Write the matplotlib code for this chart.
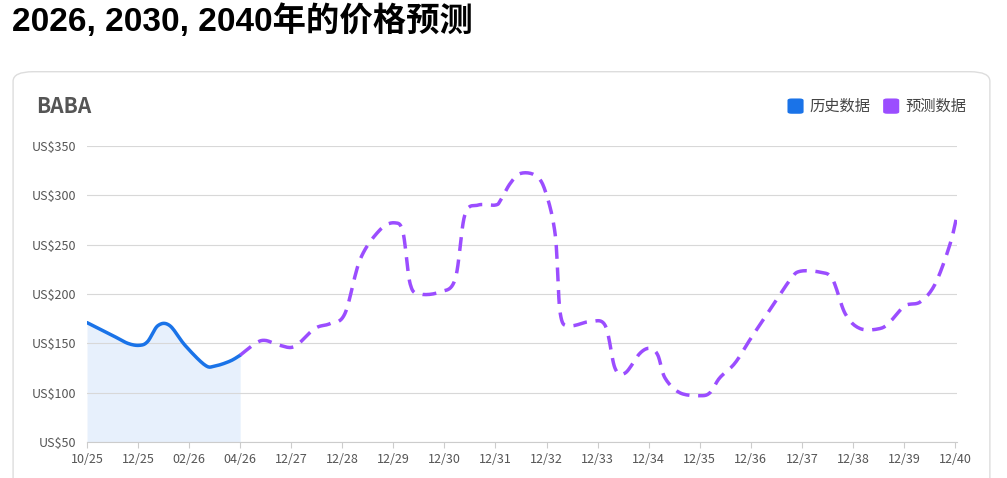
import matplotlib
matplotlib.use("Agg")
import matplotlib.pyplot as plt
import numpy as np
from matplotlib.patches import FancyBboxPatch

plt.rcParams['font.family'] = ['Noto Sans CJK SC', 'DejaVu Sans']

tick_labels = ["10/25","12/25","02/26","04/26","12/27","12/28","12/29","12/30","12/31",
               "12/32","12/33","12/34","12/35","12/36","12/37","12/38","12/39","12/40"]
# x in tick-index units
hist_x = [0, 0.5, 0.8, 1.03, 1.19, 1.39, 1.62, 1.92, 2.31, 2.5, 2.8, 3.0]
hist_y = [171, 158, 150, 148, 152, 168, 168, 148, 128, 127, 132, 138]
fc_x = [3.0, 3.3, 3.49, 3.78, 4.07, 4.46, 4.76, 5.05, 5.35, 5.74, 6.03, 6.19, 6.33, 6.52,
        6.91, 7.21, 7.4, 7.66, 8.0, 8.1, 8.29, 8.49, 8.78, 8.97, 9.17, 9.27, 9.46, 9.85, 10.15,
        10.34, 10.54, 10.83, 11.03, 11.18, 11.32, 11.61, 12.0, 12.2, 12.39, 12.69, 13.0, 13.39,
        13.78, 13.97, 14.36, 14.6, 14.85, 15.14, 15.53, 15.73, 16.02, 16.32, 16.61, 16.9, 17.04]
fc_y = [138, 150, 153, 148, 147, 165, 170, 180, 235, 265, 272, 262, 210, 200, 202, 215, 280,
        290, 290, 295, 312, 322, 320, 305, 260, 180, 168, 172, 168, 125, 120, 140, 145, 138,
        115, 100, 97, 100, 115, 130, 155, 185, 215, 223, 222, 215, 180, 165, 165, 172, 188,
        192, 210, 250, 280]

def smooth(x, y, n=12):
    x = np.asarray(x, float); y = np.asarray(y, float)
    P = np.column_stack([x, y])
    P = np.vstack([P[0], P, P[-1]])
    out = []
    for i in range(1, len(P) - 2):
        p0, p1, p2, p3 = P[i-1], P[i], P[i+1], P[i+2]
        t = np.linspace(0, 1, n, endpoint=False)[:, None]
        pts = 0.5 * ((2*p1) + (-p0+p2)*t + (2*p0-5*p1+4*p2-p3)*t**2 + (-p0+3*p1-3*p2+p3)*t**3)
        out.append(pts)
    out.append(P[-2][None, :])
    o = np.vstack(out)
    return o[:, 0], o[:, 1]

fig = plt.figure(figsize=(10.07, 4.78), dpi=100)
fig.text(0.012, 0.955, "2026, 2030, 2040年的价格预测", fontsize=24, fontweight='bold', va='center',
         family=['Liberation Sans', 'Noto Sans CJK SC'])
card = FancyBboxPatch((0.013, -0.05), 0.97, 0.9, boxstyle="round,pad=0,rounding_size=0.02",
                      transform=fig.transFigure, fc='white', ec='#dddddd', lw=1, zorder=-10)
fig.patches.append(card)
fig.text(0.036, 0.778, "BABA", fontsize=15, fontweight='bold', color='#555555', va='center')
for xx, lab, c in [(0.782, "历史数据", '#1a73e8'), (0.877, "预测数据", '#9b4dff')]:
    fig.patches.append(FancyBboxPatch((xx, 0.762), 0.016, 0.032, boxstyle="round,pad=0,rounding_size=0.004",
                                      transform=fig.transFigure, fc=c, ec='none'))
    fig.text(xx + 0.022, 0.778, lab, fontsize=11, color='#444444', va='center')

ax = fig.add_axes([0.0864, 0.075, 0.864, 0.62], zorder=5)
ax.patch.set_alpha(0)
hx, hy = smooth(hist_x, hist_y)
fx, fy = smooth(fc_x, fc_y)
ax.fill_between(hx, hy, 50, color='#1a73e8', alpha=0.1, lw=0)
ax.plot(hx, hy, color='#1a73e8', lw=2.5, solid_capstyle='round')
ax.plot(fx, fy, color='#9b4dff', lw=2.5, dashes=(4, 2.5))
ax.set_xlim(0, 17.04)
ax.set_ylim(50, 350)
yt = [50, 100, 150, 200, 250, 300, 350]
ax.set_yticks(yt)
ax.set_yticklabels([f"US${v}" for v in yt], fontsize=9, color='#555555')
ax.set_xticks(range(len(tick_labels)))
ax.set_xticklabels(tick_labels, fontsize=9, color='#555555')
ax.grid(axis='y', color='#d8d8d8', lw=0.8)
for s in ['top', 'right', 'left']:
    ax.spines[s].set_visible(False)
ax.spines['bottom'].set_color('#cccccc')
ax.tick_params(axis='y', length=0, pad=8)
ax.tick_params(axis='x', length=4, color='#cccccc')
fig.savefig("out.png", dpi=100)
